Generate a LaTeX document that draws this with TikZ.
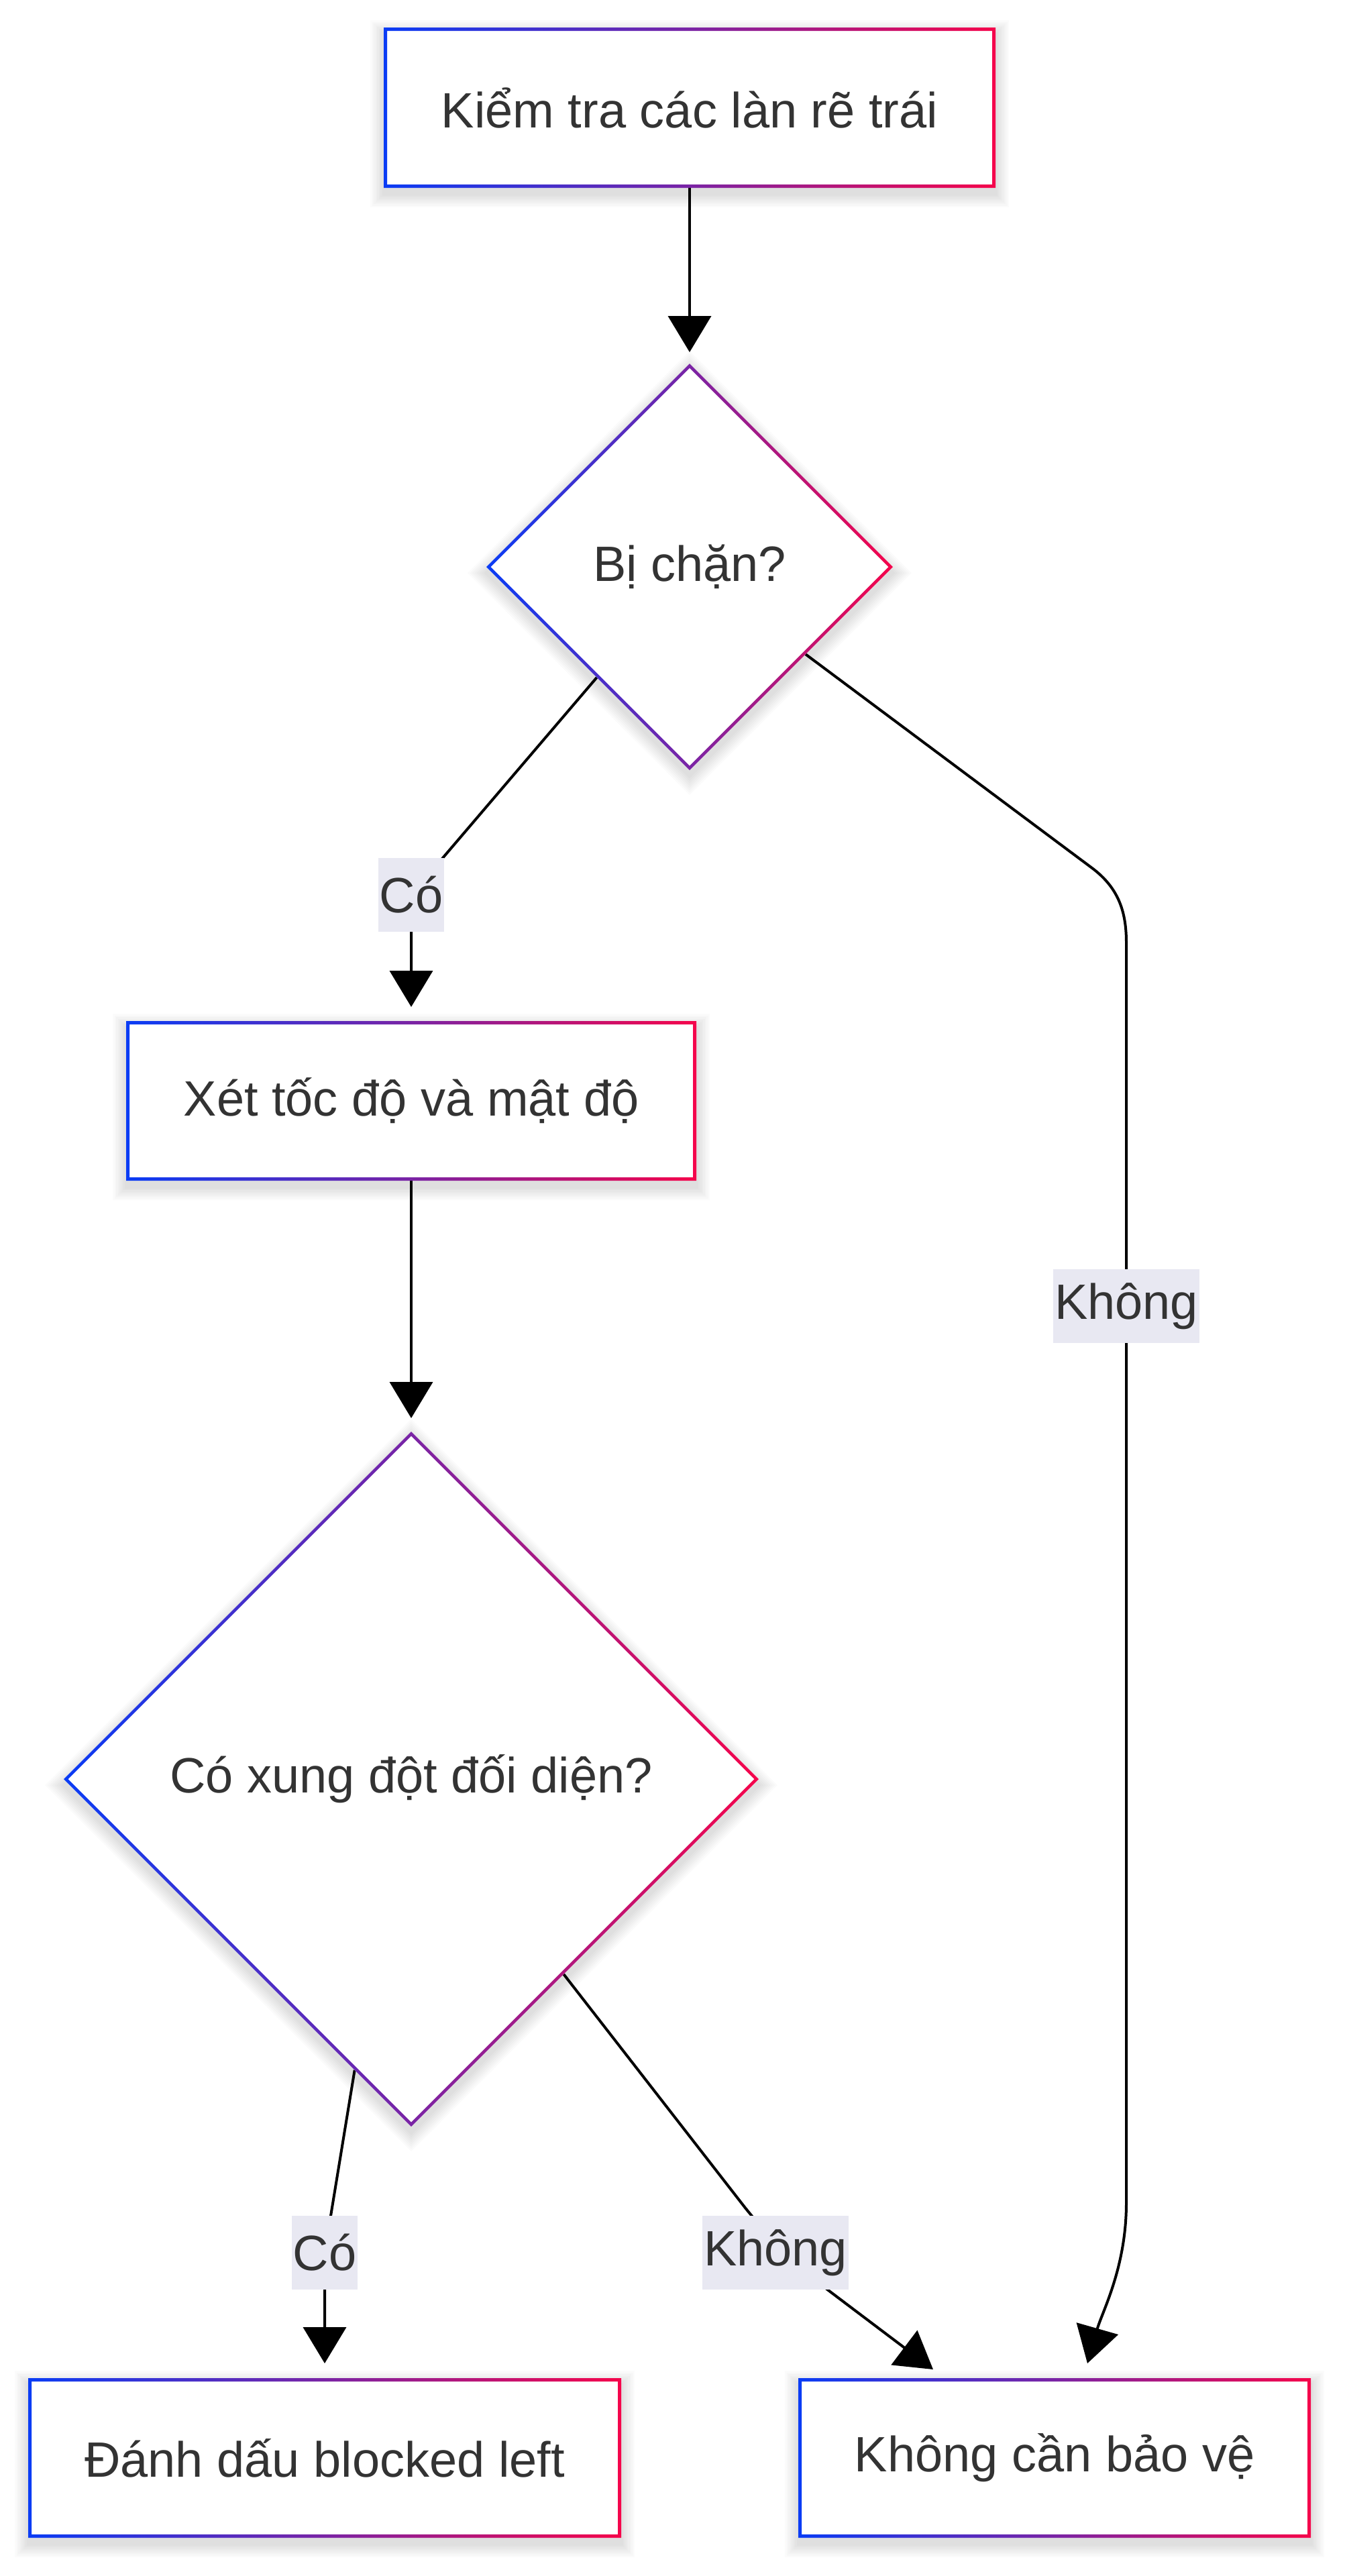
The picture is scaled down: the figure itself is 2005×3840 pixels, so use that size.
\documentclass[tikz,border=0pt]{standalone}
\usepackage{fontspec}
\setmainfont{Liberation Sans}
\usetikzlibrary{shapes.geometric,arrows.meta,calc}
\definecolor{gblue}{RGB}{10,60,245}
\definecolor{gpurp}{RGB}{122,36,165}
\definecolor{gred}{RGB}{245,5,75}
\definecolor{txtc}{RGB}{51,51,51}
\definecolor{lblbg}{RGB}{232,232,242}
\pgfdeclarelayer{shadowlayer}
\pgfdeclarelayer{edgelayer}
\pgfsetlayers{shadowlayer,edgelayer,main}
\newcommand\gradrect[1]{%
  \path[even odd rule,left color=gblue,right color=gred,middle color=gpurp]
    (#1.north west) rectangle (#1.south east)
    ($(#1.north west)+(5,5)$) rectangle ($(#1.south east)+(-5,-5)$);}
\newcommand\graddiam[1]{%
  \path[even odd rule,left color=gblue,right color=gred,middle color=gpurp]
    (#1.north) -- (#1.east) -- (#1.south) -- (#1.west) -- cycle
    ($(#1.north)+(0,6.5)$) -- ($(#1.east)+(-6.5,0)$) -- ($(#1.south)+(0,-6.5)$) -- ($(#1.west)+(6.5,0)$) -- cycle;}
\newcommand\rectshadow[1]{%
  \begin{pgfonlayer}{shadowlayer}
  \foreach \i in {1,...,8}{%
    \fill[black,opacity=0.016] ($(#1.north west)+({-\i*2.5},{-\i*2.5+9})$) rectangle ($(#1.south east)+({\i*2.5},{\i*2.5+9})$);}
  \end{pgfonlayer}}
\newcommand\diamshadow[1]{%
  \begin{pgfonlayer}{shadowlayer}
  \foreach \i in {1,...,8}{%
    \fill[black,opacity=0.016] ($(#1.north)+(0,{-\i*3.5+9})$) -- ($(#1.east)+({\i*3.5},9)$) -- ($(#1.south)+(0,{\i*3.5+9})$) -- ($(#1.west)+({-\i*3.5},9)$) -- cycle;}
  \end{pgfonlayer}}
\begin{document}
\begin{tikzpicture}[x=0.5pt,y=-0.5pt,
  boxnode/.style={rectangle,fill=white,draw=none,inner sep=0pt,outer sep=0pt,
    text=txtc,font=\fontsize{37pt}{44pt}\selectfont},
  decnode/.style={diamond,aspect=1,fill=white,draw=none,inner sep=0pt,outer sep=0pt,
    text=txtc,font=\fontsize{37pt}{44pt}\selectfont},
  lbl/.style={rectangle,fill=lblbg,inner xsep=1pt,inner ysep=0pt,minimum height=55pt,
    text=txtc,font=\fontsize{37pt}{44pt}\selectfont},
  edge/.style={draw=black,line width=2pt,-{Triangle[length=27pt,width=32pt]}}]
\useasboundingbox (0,0) rectangle (2005,3840);

\node[boxnode,minimum width=456pt,minimum height=119.5pt] (a) at (1028,160.5) {Kiểm tra các làn rẽ trái};
\node[decnode,minimum size=303pt] (d1) at (1028,845) {Bị chặn?};
\node[boxnode,minimum width=425pt,minimum height=119pt] (b2) at (613,1641) {Xét tốc độ và mật độ};
\node[decnode,minimum size=518pt] (d2) at (613,2652) {Có xung đột đối diện?};
\node[boxnode,minimum width=442pt,minimum height=119pt] (b3) at (484,3664) {Đánh dấu blocked left};
\node[boxnode,minimum width=382pt,minimum height=119pt] (b4) at (1572,3664) {Không cần bảo vệ};

\rectshadow{a}\rectshadow{b2}\rectshadow{b3}\rectshadow{b4}
\diamshadow{d1}\diamshadow{d2}
\gradrect{a}\gradrect{b2}\gradrect{b3}\gradrect{b4}
\graddiam{d1}\graddiam{d2}

\node[lbl] (l1) at (613,1334) {Có};
\node[lbl] (l3) at (1679,1947) {Không};
\node[lbl] (l5) at (484,3358) {Có};
\node[lbl] (l6) at (1156,3358) {Không};

\begin{pgfonlayer}{edgelayer}
\draw[edge] (a.south) -- ($(d1.north)+(0,-17)$);
\draw[edge] (d1.230) -- (l1.center) -- ($(b2.north)+(0,-21)$);
\draw[edge] (d1.-37) -- (1628,1294) .. controls (1668,1324) and (1679,1360) .. (1679,1405)
  -- (l3.center) -- (1679,3284) .. controls (1679,3380) and (1643,3446) .. ($(b4.north)+(49,-22)$);
\draw[edge] (b2.south) -- ($(d2.north)+(0,-20)$);
\draw[edge] (d2.259.7) -- (l5.center) -- ($(b3.north)+(0,-22)$);
\draw[edge] (d2.-52.5) -- (1110,3290) .. controls (1150,3340) and (1190,3380) .. (1240,3418) -- ($(b4.north)+(-181,-13)$);
\end{pgfonlayer}
\end{tikzpicture}
\end{document}
